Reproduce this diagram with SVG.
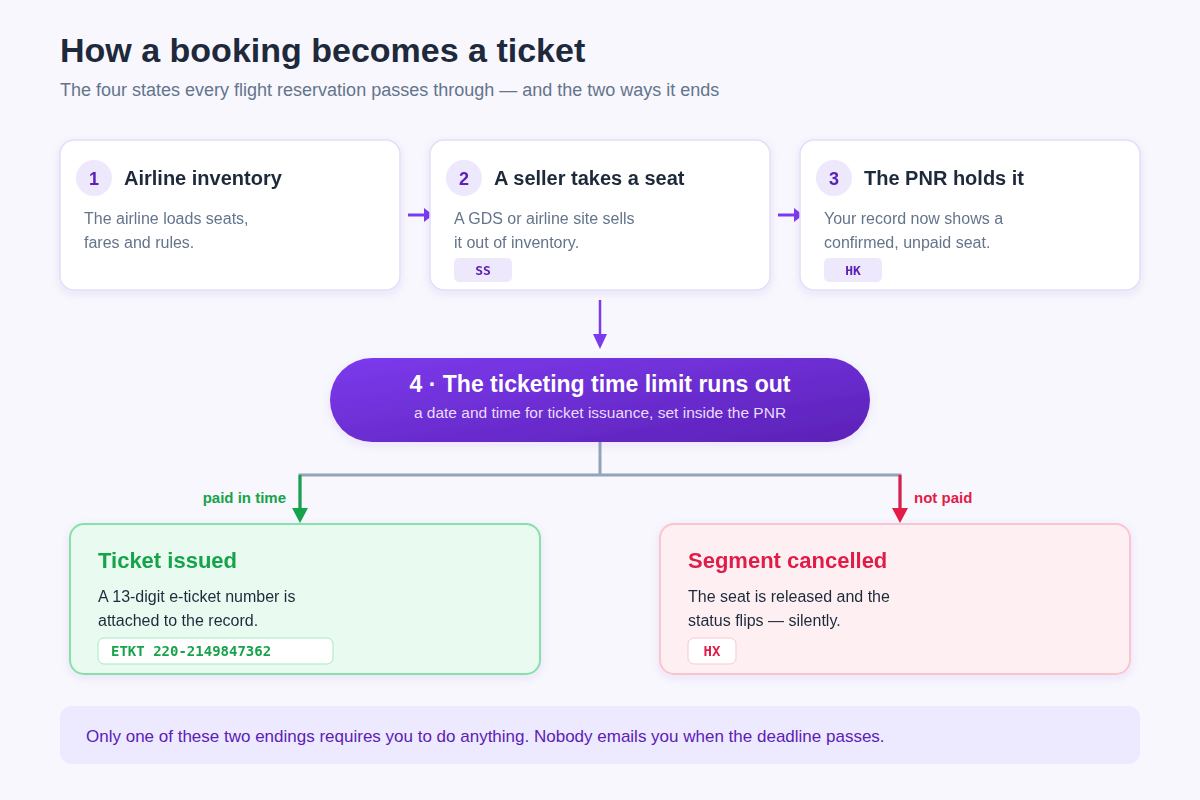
<svg xmlns="http://www.w3.org/2000/svg" width="1200" height="800" viewBox="0 0 1200 800">
<defs>
<style>
text{font-family:"Liberation Sans",Arial,sans-serif}
.card{fill:#fff;stroke:#e4def8;stroke-width:1.5}
.num{fill:#ede8fb}
.numt{font-size:18px;font-weight:bold;fill:#5b21b6;text-anchor:middle}
.h{font-size:20px;font-weight:bold;fill:#1e293b}
.b{font-size:16px;fill:#64748b}
.tag{fill:#ede8fb}
.mono{font-family:"DejaVu Sans Mono","Liberation Mono",monospace;font-weight:bold;font-size:13px}
.mono14{font-size:14px}
</style>
<linearGradient id="pg" x1="0" y1="0" x2="1" y2="1"><stop offset="0" stop-color="#7c3aed"/><stop offset="1" stop-color="#5b21b6"/></linearGradient>
<filter id="sh" x="-10%" y="-20%" width="120%" height="150%"><feDropShadow dx="0" dy="3" stdDeviation="4" flood-color="#6d28d9" flood-opacity="0.1"/></filter>
</defs>
<rect width="1200" height="800" fill="#f7f7fd"/>
<text x="60" y="62" font-size="34" font-weight="bold" fill="#1e293b">How a booking becomes a ticket</text>
<text x="60" y="96" font-size="18" fill="#64748b">The four states every flight reservation passes through — and the two ways it ends</text>
<g id="connectors">
<line x1="408" y1="215" x2="426" y2="215" stroke="#7c3aed" stroke-width="3"/>
<path d="M424,208 L433,215 L424,222z" fill="#7c3aed"/>
<line x1="778" y1="215" x2="796" y2="215" stroke="#7c3aed" stroke-width="3"/>
<path d="M794,208 L803,215 L794,222z" fill="#7c3aed"/>
<line x1="600" y1="300" x2="600" y2="336" stroke="#7c3aed" stroke-width="2.5"/>
<path d="M593,334 L607,334 L600,349z" fill="#7c3aed"/>
<path d="M600,440 V475 H300 V510 M600,475 H900 V510" fill="none" stroke="#94a3b8" stroke-width="3"/>
<line x1="300" y1="475" x2="300" y2="510" stroke="#16a34a" stroke-width="3"/>
<path d="M292,508 L308,508 L300,523z" fill="#16a34a"/>
<line x1="900" y1="475" x2="900" y2="510" stroke="#e11d48" stroke-width="3"/>
<path d="M892,508 L908,508 L900,523z" fill="#e11d48"/>
<text x="286" y="503" font-size="15" font-weight="bold" fill="#16a34a" text-anchor="end">paid in time</text>
<text x="914" y="503" font-size="15" font-weight="bold" fill="#e11d48">not paid</text>
</g>
<g id="n1" filter="url(#sh)">
<rect class="card" x="60" y="140" width="340" height="150" rx="14"/>
<circle class="num" cx="94" cy="178" r="18"/><text class="numt" x="94" y="185">1</text>
<text class="h" x="124" y="185">Airline inventory</text>
<text class="b" x="84" y="224">The airline loads seats,</text>
<text class="b" x="84" y="248">fares and rules.</text>
</g>
<g id="n2" filter="url(#sh)">
<rect class="card" x="430" y="140" width="340" height="150" rx="14"/>
<circle class="num" cx="464" cy="178" r="18"/><text class="numt" x="464" y="185">2</text>
<text class="h" x="494" y="185">A seller takes a seat</text>
<text class="b" x="454" y="224">A GDS or airline site sells</text>
<text class="b" x="454" y="248">it out of inventory.</text>
<rect class="tag" x="454" y="258" width="58" height="24" rx="5"/>
<text class="mono" x="483" y="275" fill="#5b21b6" text-anchor="middle">SS</text>
</g>
<g id="n3" filter="url(#sh)">
<rect class="card" x="800" y="140" width="340" height="150" rx="14"/>
<circle class="num" cx="834" cy="178" r="18"/><text class="numt" x="834" y="185">3</text>
<text class="h" x="864" y="185">The PNR holds it</text>
<text class="b" x="824" y="224">Your record now shows a</text>
<text class="b" x="824" y="248">confirmed, unpaid seat.</text>
<rect class="tag" x="824" y="258" width="58" height="24" rx="5"/>
<text class="mono" x="853" y="275" fill="#5b21b6" text-anchor="middle">HK</text>
</g>
<g id="n4">
<rect x="330" y="358" width="540" height="84" rx="42" fill="url(#pg)" filter="url(#sh)"/>
<text x="600" y="392" font-size="23" font-weight="bold" fill="#fff" text-anchor="middle">4 · The ticketing time limit runs out</text>
<text x="600" y="418" font-size="15.5" fill="#e9dcff" text-anchor="middle">a date and time for ticket issuance, set inside the PNR</text>
</g>
<g id="n5" filter="url(#sh)">
<rect x="70" y="524" width="470" height="150" rx="14" fill="#e9fbf1" stroke="#86e0a8" stroke-width="2"/>
<text x="98" y="568" font-size="22" font-weight="bold" fill="#16a34a">Ticket issued</text>
<text x="98" y="602" font-size="16" fill="#1e293b">A 13-digit e-ticket number is</text>
<text x="98" y="626" font-size="16" fill="#1e293b">attached to the record.</text>
<rect x="98" y="638" width="235" height="26" rx="6" fill="#fff" stroke="#a7e9c0"/>
<text class="mono mono14" x="111" y="656" fill="#16a34a">ETKT 220-2149847362</text>
</g>
<g id="n6" filter="url(#sh)">
<rect x="660" y="524" width="470" height="150" rx="14" fill="#fef0f2" stroke="#fbc5cf" stroke-width="2"/>
<text x="688" y="568" font-size="22" font-weight="bold" fill="#e11d48">Segment cancelled</text>
<text x="688" y="602" font-size="16" fill="#1e293b">The seat is released and the</text>
<text x="688" y="626" font-size="16" fill="#1e293b">status flips — silently.</text>
<rect x="688" y="638" width="48" height="26" rx="6" fill="#fff" stroke="#fbc5cf"/>
<text class="mono mono14" x="712" y="656" fill="#e11d48" text-anchor="middle">HX</text>
</g>
<g id="note">
<rect x="60" y="706" width="1080" height="58" rx="12" fill="#ede9fe"/>
<text x="86" y="742" font-size="17" fill="#5b21b6">Only one of these two endings requires you to do anything. Nobody emails you when the deadline passes.</text>
</g>
</svg>
